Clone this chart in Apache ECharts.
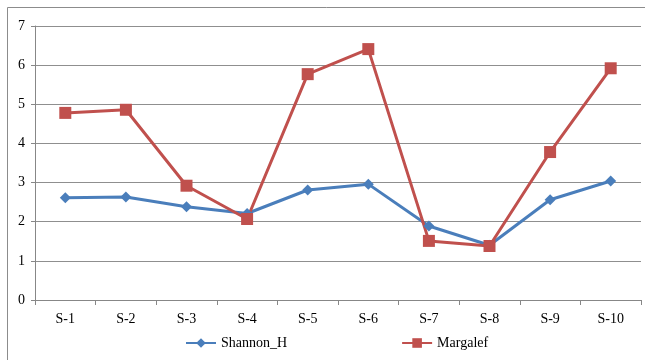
<!DOCTYPE html>
<html><head><meta charset="utf-8">
<script src="https://cdn.jsdelivr.net/npm/echarts@6/dist/echarts.min.js"></script>
<style>html,body{margin:0;padding:0;background:#fff}#c{width:645px;height:360px}</style>
</head><body><div id="c"></div>
<script>
var categories = ['S-1','S-2','S-3','S-4','S-5','S-6','S-7','S-8','S-9','S-10'];
var shannon = [2.61, 2.63, 2.38, 2.21, 2.81, 2.96, 1.89, 1.40, 2.56, 3.04];
var margalef = [4.78, 4.86, 2.92, 2.07, 5.77, 6.41, 1.51, 1.38, 3.78, 5.92];
var yTicks = [0,1,2,3,4,5,6,7];
var font = '"Liberation Serif","Times New Roman",serif';
var chart = echarts.init(document.getElementById('c'));
chart.setOption({
  animation:false,
  textStyle:{fontFamily:font},
  graphic:[{type:'rect',shape:{x:7.5,y:7.5,width:645,height:360},style:{fill:'none',stroke:'#8c8c8c',lineWidth:1},silent:true}],
  grid:{left:35,right:4,top:26,bottom:60},
  legend:{bottom:5,left:180,itemGap:114,itemWidth:30,itemHeight:12,
    textStyle:{fontFamily:font,fontSize:14,color:'#000'},
    data:['Shannon_H','Margalef']},
  xAxis:{type:'category',data:categories,boundaryGap:true,
    axisLine:{lineStyle:{color:'#878787'}},
    axisTick:{show:true,length:5,lineStyle:{color:'#878787'}},
    axisLabel:{color:'#000',fontSize:14,fontFamily:font,margin:12}},
  yAxis:{type:'value',min:0,max:7,interval:1,
    axisLine:{show:true,lineStyle:{color:'#878787'}},
    axisTick:{show:true,length:4,lineStyle:{color:'#878787'}},
    splitLine:{lineStyle:{color:'#8f8f8f'}},
    axisLabel:{color:'#000',fontSize:14,fontFamily:font,margin:10,
      formatter:function(v){return yTicks.indexOf(v)>=0?String(v):'';}}},
  series:[
    {name:'Shannon_H',type:'line',data:shannon,symbol:'diamond',symbolSize:11,
     lineStyle:{color:'#4a7ebb',width:3},itemStyle:{color:'#4a7ebb'}},
    {name:'Margalef',type:'line',data:margalef,symbol:'rect',symbolSize:12,
     lineStyle:{color:'#c0504d',width:3},itemStyle:{color:'#c0504d'}}
  ]
});
</script></body></html>
